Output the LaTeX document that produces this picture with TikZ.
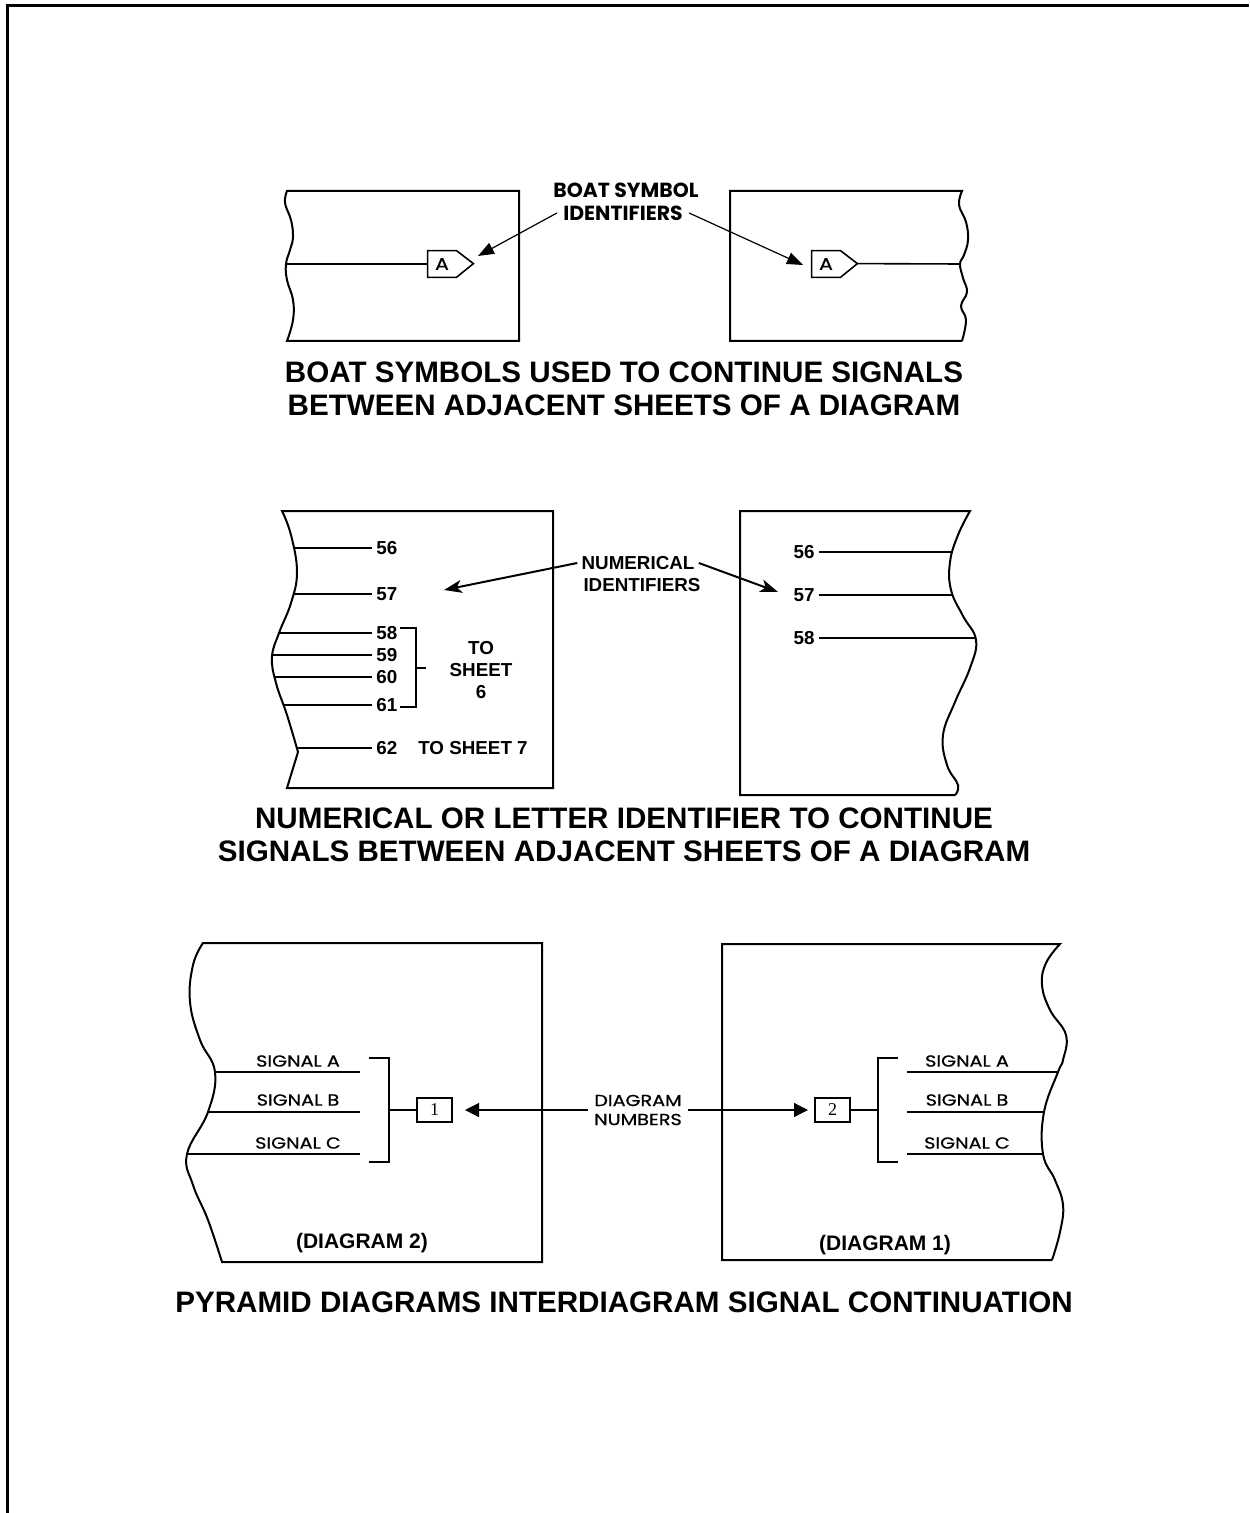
\documentclass[tikz,border=0pt]{standalone}
\usepackage{fontspec}
\setmainfont{Liberation Sans}
\newfontfamily\gothic{Poppins}
\newfontfamily\gothicwide[FakeStretch=1.2, FakeBold=0.8]{Poppins}
\newfontfamily\serifnum{Liberation Serif}
\usetikzlibrary{arrows.meta}

\begin{document}
\begin{tikzpicture}[
		x=0.5pt, y=-0.5pt,
		title/.style={align=center, font=\fontsize{14.8}{16.5}\selectfont\bfseries},
		sheet/.style={line width=1pt},
		wire/.style={line width=0.8pt},
		num/.style={inner sep=2pt, font=\fontsize{9.4}{11}\selectfont\bfseries},
		boatlbl/.style={inner sep=3pt, font=\gothic\bfseries\fontsize{10.2}{11}\selectfont},
		glabel/.style={inner sep=3pt, font=\gothicwide\fontsize{8}{9.5}\selectfont},
		sheetlbl/.style={inner sep=0pt, font=\fontsize{10.5}{12}\selectfont\bfseries},
		boat/.style={inner sep=0pt, minimum width=14pt, minimum height=13pt, font=\gothicwide\fontsize{8.5}{9}\selectfont},
		numbox/.style={draw, line width=0.7pt, inner sep=0pt, minimum width=17.5pt, minimum height=12pt, font=\serifnum\fontsize{9}{9}\selectfont},
		boatarrow/.style={-{Triangle[length=8pt, width=6pt]}, line width=0.6pt},
		numarrow/.style={-{Stealth[length=9pt, width=6.5pt, inset=2.5pt]}, line width=1pt},
		diaarrow/.style={-{Triangle[length=7pt, width=7pt]}, line width=0.6pt}
	]
		\useasboundingbox (0,0) rectangle (1249,1513);
		\draw[line width=1.5pt] (7,1513) -- (7,6) -- (1249,6);

		% boat symbols
		\draw[sheet] plot[smooth, tension=0.7] coordinates {(287,191) (285,203) (291,220) (293,237) (290,250) (286,264) (287,280) (293,300) (293,320) (287,341)} -- (519,341) -- (519,191) -- cycle;
		\draw[sheet] (962,341) -- (730,341) -- (730,191) -- plot[smooth, tension=0.7] coordinates {(962,191) (959,205) (966,222) (968,240) (964,255) (960,264) (963,278) (967,292) (961,306) (966,320) (962,341)};

		\node[boat] (boatL) at (442,264) {A};
		\draw[wire] (boatL.north west) -- (boatL.north east) -- ++(17,13) -- (boatL.south east) -- (boatL.south west) -- cycle;
		\node[boat] (boatR) at (826,264) {A};
		\draw[wire] (boatR.north west) -- (boatR.north east) -- ++(17,13) coordinate (tipR) -- (boatR.south east) -- (boatR.south west) -- cycle;
		\coordinate (edgeL) at (286,264);
		\coordinate (edgeR) at (960,264);
		\draw[wire] (edgeL) -- (boatL.west);
		\draw[wire] (tipR) -- (edgeR);

		\node[boatlbl] (bsym) at (626,190) {BOAT SYMBOL};
		\node[boatlbl] (bident) at (623,213) {IDENTIFIERS};
		\coordinate (aimL) at (478,256);
		\coordinate (aimR) at (803,265);
		\draw[boatarrow] (bident.west) -- (aimL);
		\draw[boatarrow] (bident.east) -- (aimR);

		\node[title] (title1) at (624,389) {BOAT SYMBOLS USED TO CONTINUE SIGNALS\\BETWEEN ADJACENT SHEETS OF A DIAGRAM};

		% numerical identifiers
		\draw[sheet] plot[smooth, tension=0.7] coordinates {(282,511) (291,535) (297,572) (291,603) (279,633) (272,657) (276,683) (287,715) (298,752)} -- (287,788) -- (553,788) -- (553,511) -- cycle;
		\foreach \y/\x/\n in {548/295/56, 594/293/57, 633/279/58, 655/272/59, 677/275/60, 705/284/61, 748/297/62} {
			\node[num, anchor=west] (l\n) at (372,\y) {\n};
			\coordinate (e\n) at (\x,\y);
			\draw[wire] (e\n) -- (l\n.west);
		}
		\draw[wire] (400,628) -| (416,707) -- (400,707);
		\draw[wire] (416,668) -- (426,668);
		\node[num, align=center] (to6) at (481,670) {TO\\SHEET\\6};
		\node[num] (to7) at (473,748) {TO SHEET 7};

		\draw[sheet] (955,795) -- (740,795) -- (740,511) -- plot[smooth, tension=0.7] coordinates {(970,511) (958,535) (950,562) (951,590) (963,616) (976,640) (970,668) (955,702) (943,735) (947,765) (958,785) (955,795)};
		\foreach \y/\x/\n in {552/953/56, 595/952/57, 638/976/58} {
			\node[num, anchor=east] (r\n) at (819,\y) {\n};
			\coordinate (f\n) at (\x,\y);
			\draw[wire] (r\n.east) -- (f\n);
		}

		\node[num] (numer) at (638,563) {NUMERICAL};
		\node[num] (ident) at (642,585) {IDENTIFIERS};
		\coordinate (aimNL) at (444,590);
		\coordinate (aimNR) at (778,592);
		\draw[numarrow] (numer.west) -- (aimNL);
		\draw[numarrow] (numer.east) -- (aimNR);

		\node[title] (title2) at (624,835) {NUMERICAL OR LETTER IDENTIFIER TO CONTINUE\\SIGNALS BETWEEN ADJACENT SHEETS OF A DIAGRAM};

		% pyramid diagrams
		\draw[sheet] plot[smooth, tension=0.7] coordinates {(203,943) (193,965) (190,1002) (200,1040) (215,1072) (208,1112) (187,1154) (193,1185) (208,1220) (222,1262)} -- (542,1262) -- (542,943) -- cycle;
		\draw[sheet] (1052,1260) -- (722,1260) -- (722,944) -- plot[smooth, tension=0.7] coordinates {(1060,944) (1046,963) (1042,985) (1050,1010) (1066,1035) (1063,1060) (1058,1072) (1044,1112) (1043,1154) (1055,1180) (1063,1205) (1060,1232) (1052,1260)};

		\foreach \y/\x/\s/\ly in {1072/215/A/1061, 1112/208/B/1100, 1154/187/C/1143} {
			\coordinate (pL\s) at (\x,\y);
			\coordinate (qL\s) at (360,\y);
			\draw[wire] (pL\s) -- (qL\s);
			\node[glabel] (sigL\s) at (298,\ly) {SIGNAL \s};
		}
		\foreach \y/\x/\s/\ly in {1072/1058/A/1061, 1112/1044/B/1100, 1154/1043/C/1143} {
			\coordinate (pR\s) at (907,\y);
			\coordinate (qR\s) at (\x,\y);
			\draw[wire] (pR\s) -- (qR\s);
			\node[glabel] (sigR\s) at (967,\ly) {SIGNAL \s};
		}

		\draw[wire] (369,1058) -| (389,1162) -- (369,1162);
		\node[numbox] (box1) at (434.5,1110) {1};
		\draw[wire] (389,1110) -- (box1.west);
		\draw[wire] (898,1058) -| (878,1162) -- (898,1162);
		\node[numbox] (box2) at (832.5,1110) {2};
		\draw[wire] (box2.east) -- (878,1110);

		\node[glabel, align=center] (dnum) at (638,1110) {DIAGRAM\\NUMBERS};
		\coordinate (aimDL) at (465,1110);
		\coordinate (aimDR) at (808,1110);
		\draw[diaarrow] (dnum.west) -- (aimDL);
		\draw[diaarrow] (dnum.east) -- (aimDR);

		\node[sheetlbl] (dia2) at (362,1243) {(DIAGRAM 2)};
		\node[sheetlbl] (dia1) at (885,1245) {(DIAGRAM 1)};

		\node[title] (title3) at (624,1302) {PYRAMID DIAGRAMS INTERDIAGRAM SIGNAL CONTINUATION};
	\end{tikzpicture}
\end{document}
